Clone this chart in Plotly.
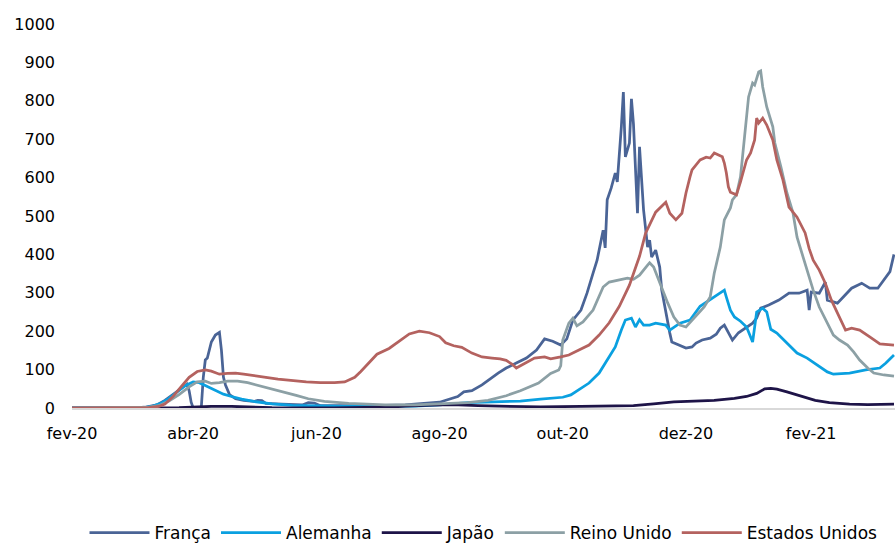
import plotly.graph_objects as go

# ---------------- data (cases per million) ----------------
fr_dates = ["2020-02-01","2020-03-01","2020-03-08","2020-03-14","2020-03-18","2020-03-22","2020-03-26","2020-03-29",
            "2020-03-30","2020-03-31","2020-04-01","2020-04-05","2020-04-06","2020-04-07","2020-04-08","2020-04-10",
            "2020-04-12","2020-04-14","2020-04-15","2020-04-16","2020-04-17","2020-04-19","2020-04-22","2020-04-26",
            "2020-05-01","2020-05-03","2020-05-05","2020-05-07","2020-05-15","2020-05-25","2020-05-28","2020-05-31",
            "2020-06-03","2020-06-15","2020-07-01","2020-07-15","2020-08-01","2020-08-10","2020-08-13","2020-08-17",
            "2020-08-22","2020-08-30","2020-09-03","2020-09-08","2020-09-13","2020-09-18","2020-09-22","2020-09-26",
            "2020-09-30","2020-10-03","2020-10-06","2020-10-10","2020-10-13","2020-10-16","2020-10-18","2020-10-21",
            "2020-10-22","2020-10-23","2020-10-25","2020-10-27","2020-10-28","2020-10-30","2020-10-31","2020-11-01",
            "2020-11-03","2020-11-04","2020-11-05","2020-11-07","2020-11-08","2020-11-10","2020-11-12","2020-11-13",
            "2020-11-14","2020-11-16","2020-11-18","2020-11-19","2020-11-21","2020-11-23","2020-11-24","2020-11-28",
            "2020-12-01","2020-12-04","2020-12-06","2020-12-09","2020-12-13","2020-12-16","2020-12-18","2020-12-20",
            "2020-12-22","2020-12-24","2020-12-27","2020-12-31","2021-01-03","2021-01-05","2021-01-07","2021-01-11",
            "2021-01-16","2021-01-21","2021-01-26","2021-01-30","2021-01-31","2021-02-01","2021-02-05","2021-02-08",
            "2021-02-09","2021-02-14","2021-02-17","2021-02-21","2021-02-26","2021-03-02","2021-03-06","2021-03-09",
            "2021-03-12","2021-03-14"]
fr_vals = [0,0,2,8,20,35,52,62,
           45,15,0,0,80,125,130,172,
           190,197,150,80,60,35,24,20,
           17,20,19,12,10,8,14,13,
           6,6,6,8,15,30,42,45,
           60,91,104,117,130,151,180,174,
           164,180,229,255,299,351,385,463,
           417,542,573,612,589,732,823,654,
           690,805,740,507,680,516,419,437,
           393,411,367,307,247,195,172,164,
           156,159,169,177,182,192,208,216,
           197,177,196,210,221,234,260,268,
           281,299,299,307,255,302,299,328,
           281,273,289,312,325,312,312,333,
           355,400]

de_dates = ["2020-02-01","2020-03-01","2020-03-08","2020-03-12","2020-03-16","2020-03-20","2020-03-24","2020-03-28",
            "2020-04-01","2020-04-04","2020-04-08","2020-04-12","2020-04-16","2020-04-20","2020-04-25","2020-05-01",
            "2020-05-10","2020-05-20","2020-06-01","2020-06-15","2020-06-25","2020-07-05","2020-07-20","2020-08-01",
            "2020-08-15","2020-08-25","2020-09-10","2020-09-20","2020-10-01","2020-10-05","2020-10-09","2020-10-14",
            "2020-10-19","2020-10-24","2020-10-27","2020-10-30","2020-11-01","2020-11-04","2020-11-06","2020-11-08",
            "2020-11-10","2020-11-13","2020-11-16","2020-11-21","2020-11-23","2020-11-28","2020-12-03","2020-12-08",
            "2020-12-13","2020-12-16","2020-12-20","2020-12-21","2020-12-23","2020-12-25","2020-12-28","2020-12-31",
            "2021-01-03","2021-01-05","2021-01-08","2021-01-10","2021-01-12","2021-01-15","2021-01-20","2021-01-25",
            "2021-01-30","2021-02-04","2021-02-09","2021-02-12","2021-02-20","2021-02-28","2021-03-07","2021-03-10",
            "2021-03-14"]
de_vals = [0,0.2,1,5,12,25,42,58,
           68,66,56,46,36,30,23,17,
           11,7,5,4,6,4,5,8,
           14,16,18,23,28,34,47,65,
           91,133,159,203,229,234,211,230,
           216,216,221,216,203,221,229,265,
           282,294,307,289,255,237,226,211,
           172,250,260,250,205,195,169,143,
           130,112,94,88,91,99,104,117,
           138]

jp_dates = ["2020-02-01","2020-03-01","2020-03-25","2020-04-10","2020-04-20","2020-05-10","2020-06-10","2020-07-10",
            "2020-07-15","2020-07-25","2020-08-07","2020-08-20","2020-09-05","2020-09-20","2020-10-10","2020-10-25",
            "2020-11-05","2020-11-15","2020-11-25","2020-12-05","2020-12-15","2020-12-25","2020-12-31","2021-01-05",
            "2021-01-09","2021-01-12","2021-01-15","2021-01-20","2021-01-27","2021-02-03","2021-02-10","2021-02-20",
            "2021-03-01","2021-03-14"]
jp_vals = [0,0.3,1,4,4,1,0.5,3,
           5,7,8.5,6,4,3,4,4.5,
           6,11,16,18,20,25,30,38,
           50,51,49,42,32,20,14,10,
           9,10]

uk_dates = ["2020-02-01","2020-03-01","2020-03-10","2020-03-15","2020-03-20","2020-03-25","2020-03-30","2020-04-03",
            "2020-04-07","2020-04-10","2020-04-14","2020-04-18","2020-04-23","2020-04-28","2020-05-04","2020-05-10",
            "2020-05-15","2020-05-22","2020-05-28","2020-06-05","2020-06-17","2020-06-25","2020-07-05","2020-07-20",
            "2020-08-01","2020-08-15","2020-08-25","2020-09-03","2020-09-10","2020-09-19","2020-09-25","2020-09-29",
            "2020-09-30","2020-10-01","2020-10-04","2020-10-06","2020-10-08","2020-10-11","2020-10-16","2020-10-21",
            "2020-10-24","2020-10-29","2020-11-02","2020-11-05","2020-11-08","2020-11-12","2020-11-13","2020-11-15",
            "2020-11-18","2020-11-22","2020-11-25","2020-11-28","2020-12-01","2020-12-05","2020-12-10","2020-12-13",
            "2020-12-15","2020-12-18","2020-12-20","2020-12-23","2020-12-24","2020-12-26","2020-12-28","2020-12-30",
            "2021-01-01","2021-01-03","2021-01-04","2021-01-06","2021-01-07","2021-01-08","2021-01-10","2021-01-13",
            "2021-01-14","2021-01-17","2021-01-20","2021-01-23","2021-01-25","2021-01-28","2021-01-30","2021-02-02",
            "2021-02-05","2021-02-09","2021-02-12","2021-02-15","2021-02-19","2021-02-22","2021-02-25","2021-03-01",
            "2021-03-04","2021-03-09","2021-03-14"]
uk_vals = [0,0.3,2,6,18,35,55,68,
           70,64,66,70,70,66,58,50,
           44,33,24,17,12,10,8,8,
           10,14,20,32,45,65,90,99,
           110,177,221,234,214,224,255,315,
           328,333,338,335,346,372,378,367,
           325,273,237,216,211,234,263,289,
           351,419,490,521,542,555,602,706,
           810,846,841,875,878,836,784,732,
           690,628,560,508,445,393,359,307,
           263,221,190,177,164,146,125,104,
           91,86,83]

us_dates = ["2020-02-01","2020-03-01","2020-03-10","2020-03-15","2020-03-18","2020-03-22","2020-03-26","2020-03-30",
            "2020-04-03","2020-04-07","2020-04-10","2020-04-14","2020-04-18","2020-04-22","2020-04-26","2020-05-01",
            "2020-05-07","2020-05-13","2020-05-20","2020-05-27","2020-06-03","2020-06-10","2020-06-15","2020-06-20",
            "2020-06-23","2020-06-27","2020-07-01","2020-07-07","2020-07-12","2020-07-17","2020-07-22","2020-07-27",
            "2020-08-01","2020-08-04","2020-08-08","2020-08-12","2020-08-17","2020-08-22","2020-08-27","2020-08-31",
            "2020-09-03","2020-09-06","2020-09-08","2020-09-12","2020-09-17","2020-09-22","2020-09-25","2020-09-30",
            "2020-10-04","2020-10-09","2020-10-14","2020-10-19","2020-10-24","2020-10-29","2020-11-03","2020-11-08",
            "2020-11-11","2020-11-16","2020-11-21","2020-11-23","2020-11-26","2020-11-29","2020-12-01","2020-12-03",
            "2020-12-04","2020-12-08","2020-12-11","2020-12-13","2020-12-15","2020-12-19","2020-12-20","2020-12-21",
            "2020-12-22","2020-12-23","2020-12-26","2020-12-28","2020-12-31","2021-01-02","2021-01-04","2021-01-05",
            "2021-01-06","2021-01-08","2021-01-10","2021-01-13","2021-01-15","2021-01-18","2021-01-21","2021-01-25",
            "2021-01-29","2021-01-31","2021-02-02","2021-02-05","2021-02-08","2021-02-11","2021-02-15","2021-02-18",
            "2021-02-21","2021-02-25","2021-03-02","2021-03-07","2021-03-14"]
us_vals = [0,0.1,1,4,10,30,55,80,
           95,99,96,88,90,91,88,85,
           80,75,71,68,66,66,68,80,
           95,118,140,155,175,193,200,196,
           186,170,162,158,143,133,130,128,
           124,114,104,115,130,133,128,133,
           138,151,164,190,222,265,320,395,
           455,510,536,507,490,507,560,602,
           620,646,653,651,664,654,638,612,
           576,562,555,589,646,664,698,755,
           742,755,737,698,646,594,523,497,
           456,415,385,359,325,281,237,203,
           208,203,185,167,164]

tick_dates = ["2020-02-01","2020-04-01","2020-06-01","2020-08-01","2020-10-01","2020-12-01","2021-02-01"]
tick_labels = ["fev-20","abr-20","jun-20","ago-20","out-20","dez-20","fev-21"]
y_ticks = [0,100,200,300,400,500,600,700,800,900,1000]

series = [
    ("França", fr_dates, fr_vals, "#4A6496"),
    ("Alemanha", de_dates, de_vals, "#0AA0E0"),
    ("Japão", jp_dates, jp_vals, "#1E1448"),
    ("Reino Unido", uk_dates, uk_vals, "#8CA0A5"),
    ("Estados Unidos", us_dates, us_vals, "#B4625F"),
]

FONT = "DejaVu Sans"

fig = go.Figure()
for name, d, v, c in series:
    fig.add_trace(go.Scatter(x=d, y=v, mode="lines", name=name,
                             line=dict(color=c, width=2.75)))

fig.update_layout(
    width=895, height=543,
    margin=dict(l=72, r=0, t=24, b=135, autoexpand=False),
    paper_bgcolor="white", plot_bgcolor="white",
    font=dict(family=FONT, size=16, color="black"),
    showlegend=True,
    legend=dict(orientation="h", x=0.5, xanchor="center", y=-0.326, yanchor="middle",
                itemwidth=60, tracegroupgap=0,
                font=dict(family=FONT, size=17, color="black"), bgcolor="rgba(0,0,0,0)"),
    xaxis=dict(range=["2020-02-01", "2021-03-14 12:00"], tickvals=tick_dates, ticktext=tick_labels,
               showgrid=False, zeroline=False, showline=True, linecolor="#D9D9D9", linewidth=2,
               ticks="", ticklabelstandoff=10, layer="below traces",
               tickfont=dict(family=FONT, size=16, color="black")),
    yaxis=dict(range=[0, 1000], tickvals=y_ticks, showgrid=False, zeroline=False, showline=False,
               ticks="", ticklabelstandoff=16,
               tickfont=dict(family=FONT, size=16, color="black")),
)

fig.write_html("out.html", config={"displayModeBar": False},
               post_script="document.body.style.margin='0';document.body.style.overflow='hidden';")
